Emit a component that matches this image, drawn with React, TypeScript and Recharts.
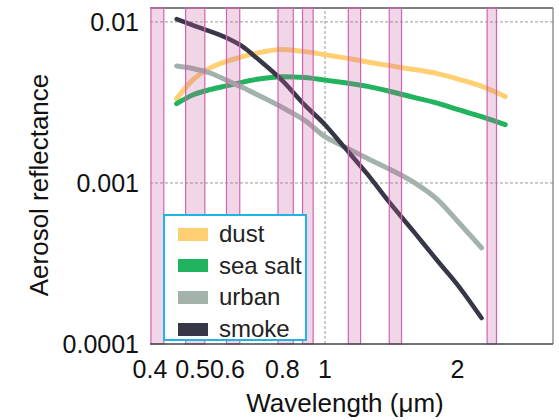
import React from 'react';
import { LineChart, Line, XAxis, YAxis, ReferenceArea, ReferenceLine } from 'recharts';

// wavelength in micrometres, reflectance
const wavelengths = [0.46, 0.5, 0.55, 0.6, 0.65, 0.7, 0.8, 0.9, 1.0, 1.1, 1.25, 1.4, 1.6, 1.8, 2.0, 2.27, 2.57];
const dust = [0.00334, 0.00435, 0.0052, 0.00571, 0.00609, 0.0064, 0.00673, 0.00654, 0.00626, 0.006, 0.00564, 0.00535, 0.00506, 0.00477, 0.00443, 0.00399, 0.00344];
const seaSalt = [0.00311, 0.00352, 0.00381, 0.00402, 0.00423, 0.0044, 0.00457, 0.00451, 0.00435, 0.0042, 0.00398, 0.00371, 0.00339, 0.00313, 0.00286, 0.00258, 0.0023];
const urban = [0.00532, 0.00514, 0.0048, 0.00432, 0.00391, 0.00354, 0.00294, 0.00244, 0.00194, 0.00169, 0.00142, 0.00122, 0.001, 0.00079, 0.00058, 0.000395, null];
const smoke = [0.0104, 0.00955, 0.0087, 0.00791, 0.00702, 0.00596, 0.00432, 0.00304, 0.0023, 0.0017, 0.00113, 0.00076, 0.00049, 0.00033, 0.000234, 0.000145, null];

// instrument bands (start / end wavelength)
const bandStart = [0.402, 0.482, 0.597, 0.782, 0.889, 1.13, 1.4, 2.337];
const bandEnd = [0.43, 0.533, 0.64, 0.847, 0.94, 1.205, 1.493, 2.455];

const xTicks = [0.4, 0.5, 0.6, 0.8, 1, 2];
const yTicks = [0.0001, 0.001, 0.01];

const series = [
  { key: 'dust', name: 'dust', color: '#ffd073', width: 5 },
  { key: 'seaSalt', name: 'sea salt', color: '#22b35e', width: 5 },
  { key: 'urban', name: 'urban', color: '#a3b2aa', width: 5 },
  { key: 'smoke', name: 'smoke', color: '#373847', width: 4.5 },
];

const data = wavelengths.map((w, i) => ({
  w,
  dust: dust[i],
  seaSalt: seaSalt[i],
  urban: urban[i],
  smoke: smoke[i],
}));

const FONT = '"Liberation Sans", Arial, sans-serif';

export default function App() {
  return (
    <div style={{ position: 'absolute', left: 0, top: 0, width: 559, height: 420, fontFamily: FONT, background: '#fff' }}>
      <LineChart width={559} height={420} data={data} margin={{ top: 8, right: 6, bottom: 46, left: 0 }}>
        <XAxis
          dataKey="w"
          type="number"
          scale="log"
          domain={[0.4, 3.3]}
          allowDataOverflow
          ticks={xTicks}
          tickFormatter={(v) => String(v)}
          interval={0}
          height={30}
          tick={{ fontSize: 25, fill: '#111', fontFamily: FONT }}
          tickLine={false}
          tickMargin={10}
          axisLine={{ stroke: '#444', strokeWidth: 1.5 }}
          label={{
            content: () => (
              <text x={345} y={412} textAnchor="middle" fontSize={26} fill="#111" fontFamily={FONT}>
                Wavelength (μm)
              </text>
            ),
          }}
        />
        <YAxis
          type="number"
          scale="log"
          domain={[0.0001, 0.0122]}
          allowDataOverflow
          ticks={yTicks}
          tickFormatter={(v) => String(v)}
          interval={0}
          width={150}
          tick={{ fontSize: 25, fill: '#111', fontFamily: FONT }}
          tickLine={false}
          tickMargin={5}
          axisLine={false}
          label={{
            content: () => (
              <text x={39} y={185} transform="rotate(-90 39 185)" textAnchor="middle" dominantBaseline="central" fontSize={26} fill="#111" fontFamily={FONT}>
                Aerosol reflectance
              </text>
            ),
          }}
        />
        <ReferenceLine y={0.01} stroke="#999" strokeDasharray="3 2" />
        <ReferenceLine y={0.001} stroke="#999" strokeDasharray="3 2" />
        <ReferenceLine x={1} stroke="#999" strokeDasharray="3 2" />
        {series.map((s) => (
          <Line
            key={s.key}
            dataKey={s.key}
            type="monotone"
            stroke={s.color}
            strokeWidth={s.width}
            strokeLinecap="round"
            dot={false}
            activeDot={false}
            isAnimationActive={false}
          />
        ))}
        {bandStart.map((b, i) => (
          <ReferenceArea
            key={i}
            x1={b}
            x2={bandEnd[i]}
            fill="rgb(200, 90, 160)"
            fillOpacity={0.25}
            stroke="#d462b4"
            strokeWidth={1.2}
            zIndex={450}
          />
        ))}
        <ReferenceLine y={0.0122} stroke="#555" strokeWidth={1.5} />
        <ReferenceLine x={3.3} stroke="#777" strokeWidth={1.2} />
      </LineChart>
      <div
        style={{
          position: 'absolute',
          left: 163,
          top: 214,
          width: 144,
          height: 127,
          boxSizing: 'border-box',
          border: '2px solid #1fb4e6',
          background: '#fff',
        }}
      >
        {series.map((s, i) => (
          <div
            key={s.key}
            style={{
              position: 'absolute',
              left: 13,
              top: 4 + i * 31.7,
              height: 28,
              display: 'flex',
              alignItems: 'center',
              whiteSpace: 'nowrap',
            }}
          >
            <span style={{ display: 'inline-block', width: 30, height: 13, background: s.color, marginRight: 11 }} />
            <span style={{ fontSize: 24, color: '#222', lineHeight: '28px' }}>{s.name}</span>
          </div>
        ))}
      </div>
    </div>
  );
}
